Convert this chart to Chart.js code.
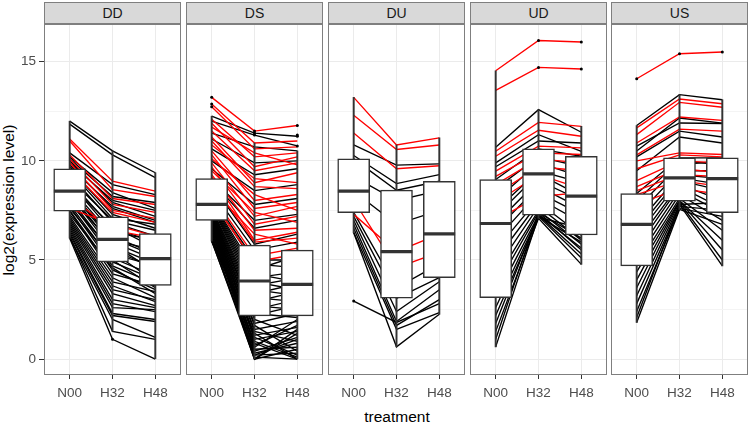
<!DOCTYPE html>
<html>
<head>
<meta charset="utf-8">
<script src="https://cdn.jsdelivr.net/npm/chart.js@4.4.1/dist/chart.umd.min.js"></script>
<style>
  body { margin:0; background:#fff; }
  #wrap { position:relative; width:751px; height:427px; overflow:hidden; font-family:"Liberation Sans", Arial, sans-serif; }
  canvas { position:absolute; top:24px; }
  .strip { position:absolute; top:2px; height:20px; width:135px; background:#d9d9d9; border:1px solid #7f7f7f;
           color:#1a1a1a; font-size:14px; line-height:20px; text-align:center; }
  .title { position:absolute; color:#000; font-size:15.5px; white-space:nowrap; }
</style>
</head>
<body>
<div id="wrap">
  <div class="title" style="left:0;top:417px;width:751px;text-align:center;line-height:0;padding-left:43px;box-sizing:border-box">treatment</div>
  <div class="title" style="left:9px;top:200px;transform:translate(-50%,-50%) rotate(-90deg)">log2(expression level)</div>
</div>
<script>
const treatments = ["N00", "H32", "H48"];
const facets = ["DD", "DS", "DU", "UD", "US"];

// each line: [N00, H32, H48]
const ddBlack = [
  [12.0,10.5,9.4],[11.85,10.3,9.15],[10.4,8.8,8.3],[10.2,8.4,7.6],[10.1,8.2,7.9],[10.0,7.9,7.2],
  [9.9,8.0,7.5],[9.8,7.6,6.9],[9.7,7.7,7.0],[9.6,7.3,6.6],[9.5,7.1,6.8],[9.3,6.9,6.2],[9.1,7.0,6.5],
  [9.0,6.6,5.9],[8.9,6.4,6.0],[8.8,6.7,5.6],[8.7,6.2,5.3],[8.6,6.0,5.5],[8.5,5.9,5.0],[8.45,6.1,5.2],
  [8.4,5.7,4.8],[8.3,5.5,4.6],[8.2,5.8,4.4],[8.1,5.3,4.7],[8.0,5.1,4.2],[7.9,5.4,3.9],[7.8,4.9,4.0],
  [7.7,4.7,3.8],[7.6,5.0,3.6],[7.5,4.5,3.5],[7.45,4.3,3.7],[7.3,4.6,3.3],[7.2,4.1,3.1],[7.1,3.9,3.4],
  [7.0,3.7,2.9],[6.9,3.5,3.0],[6.8,3.3,2.7],[6.7,3.0,2.6],[6.6,2.8,2.4],[6.5,2.6,2.5],[6.4,2.3,2.0],
  [6.3,2.2,1.9],[6.2,1.4,1.0],[6.1,1.0,0.0],[6.15,2.0,1.1]
];
const ddRed = [
  [11.1,8.97,8.47],[11.0,8.55,8.2],[10.3,8.1,7.8],[10.1,7.8,7.4],[9.9,7.5,7.1],[9.6,7.4,6.9],
  [8.2,6.5,6.1],[7.6,6.8,6.2]
];
const dsBlack = [
  [12.25,11.4,11.24],[12.0,11.3,10.75],[11.4,10.7,10.5],[11.1,9.9,10.0],[10.6,9.3,9.6],[10.0,8.5,8.8],
  [9.6,7.8,8.1],[9.1,7.0,7.3],[9.0,6.6,7.0],[8.8,5.8,6.3],[8.5,5.5,5.9],[8.2,5.0,5.0],
  [8.1,4.8,4.6],[8.0,4.5,5.2],[7.95,4.3,3.9],[7.9,4.1,4.4],[7.85,3.9,3.5],[7.8,3.7,4.1],[7.75,3.5,3.2],
  [7.7,3.3,3.8],[7.6,3.1,2.9],[7.55,2.9,3.4],[7.5,2.7,2.5],[7.45,2.5,3.0],[7.4,2.3,2.1],[7.35,2.2,2.7],
  [7.3,2.0,1.2],[7.25,1.8,2.3],[7.2,1.7,0.4],[7.15,1.5,1.9],[7.1,1.4,0.9],[7.05,1.2,1.6],[7.0,1.1,0.2],
  [6.95,1.0,1.4],[6.9,0.8,0.0],[6.85,0.7,1.7],[6.8,0.5,0.6],[6.75,0.4,1.1],[6.7,0.2,0.3],[6.6,0.0,1.3],
  [6.5,0.1,0.0],[6.4,0.6,2.0],[6.3,0.3,0.8],[6.2,0.0,1.5],[6.1,0.9,0.1],[6.0,0.0,0.5],[5.95,1.3,0.0],
  [5.95,0.2,1.0]
];
const dsRed = [
  [13.2,11.5,11.78],[12.87,10.9,11.0],[12.73,10.6,10.7],[12.1,10.2,10.4],[11.9,9.7,10.2],[11.7,10.4,9.8],
  [11.5,9.5,9.9],[11.2,8.9,9.4],[11.0,8.7,8.6],[10.8,9.1,8.9],[10.5,8.0,8.3],[10.3,7.6,7.9],
  [10.1,8.3,7.5],[9.9,7.2,7.7],[9.7,6.8,7.2],[9.5,7.4,6.9],[9.3,6.5,6.6],[9.2,6.0,6.4],[8.9,5.9,6.1],
  [8.6,6.3,5.8],[8.3,5.2,5.6],[8.0,4.9,5.3]
];
const duBlack = [
  [10.8,9.78,9.85],[10.27,8.85,9.3],[10.1,8.52,8.97],[9.2,8.0,8.5],[8.47,6.8,7.5],[7.4,3.6,4.8],
  [7.2,3.07,4.11],[7.0,2.4,3.9],[6.8,1.9,3.5],[6.6,1.7,3.0],[6.4,1.5,2.35],[6.37,0.62,2.26],[2.93,1.85,2.8]
];
const duRed = [
  [13.2,10.8,11.16],[12.3,10.57,10.8],[11.4,9.6,9.75],[7.3,5.42,6.3],[8.0,4.6,5.4]
];
const udBlack = [
  [10.69,12.58,11.44],[9.9,11.32,10.48],[9.7,11.0,10.9],[9.06,10.6,10.23],[8.6,10.2,9.7],[8.0,9.9,9.2],
  [7.5,9.5,8.9],[7.2,9.34,8.22],[6.84,9.0,8.0],[6.5,8.7,7.6],[6.0,8.4,7.3],[5.5,8.1,6.9],[5.0,7.9,6.26],
  [4.5,7.7,6.0],[4.0,7.5,5.8],[3.6,7.4,5.5],[3.1,7.26,5.3],[2.6,7.2,5.1],[2.2,7.15,6.6],[1.8,7.3,5.6],
  [1.4,7.1,4.78],[1.0,7.4,6.1],[0.62,7.2,5.9]
];
const udRed = [
  [14.54,16.07,15.99],[13.55,14.71,14.63],[10.48,11.94,11.74],[10.23,11.54,11.24],[9.48,10.74,10.65],
  [9.22,10.4,10.32],[8.8,10.1,9.9],[8.3,9.7,9.5],[7.9,9.3,8.6],[7.0,8.2,8.4]
];
const usBlack = [
  [11.78,13.34,13.08],[10.74,11.91,11.88],[10.5,12.16,11.9],[10.2,11.5,11.2],[9.5,11.2,10.9],
  [8.35,10.15,10.15],[8.0,10.0,9.8],[7.6,9.8,10.0],[7.2,9.5,9.5],[6.79,9.3,9.1],[6.5,9.14,8.8],
  [6.2,9.0,8.5],[5.9,8.8,8.0],[5.6,8.7,7.6],[5.3,8.5,7.38],[5.0,8.3,7.0],[4.7,8.1,6.5],[4.4,8.0,6.0],
  [4.0,7.97,5.5],[3.6,7.9,5.0],[3.2,7.8,4.7],[2.8,7.7,7.5],[2.4,7.6,7.2],[1.85,7.55,6.8],[2.1,7.8,7.9]
];
const usRed = [
  [14.14,15.4,15.49],[11.66,13.12,12.88],[11.32,12.95,12.7],[10.9,12.21,12.04],[10.3,11.6,11.5],
  [10.0,10.4,10.32],[9.6,10.3,10.2],[9.0,10.0,9.9],[8.7,9.6,9.4],[8.5,9.3,9.2],[8.3,9.0,8.7],[7.8,8.6,8.3]
];
const blackLines = [ddBlack, dsBlack, duBlack, udBlack, usBlack];
const redLines = [ddRed, dsRed, duRed, udRed, usRed];

// boxplot stats per facet, per treatment
const boxQ1  = [[7.46,4.9,3.72],[7.0,2.18,2.18],[7.38,3.07,4.11],[3.1,7.26,6.26],[4.7,7.97,7.38]];
const boxMed = [[8.47,6.04,5.07],[7.8,3.94,3.77],[8.47,5.42,6.32],[6.84,9.34,8.22],[6.79,9.14,9.1]];
const boxQ3  = [[9.6,7.18,6.33],[9.1,5.75,5.5],[10.1,8.52,8.97],[9.06,10.6,10.23],[8.35,10.15,10.15]];
const whiskLo = [[6.1,1.4,0.0],[5.95,0.0,0.0],[6.37,0.62,2.26],[0.62,7.1,4.78],[1.85,7.55,4.7]];
const whiskHi = [[12.0,10.5,9.4],[12.25,10.9,10.5],[13.2,10.8,11.16],[14.54,12.58,11.74],[11.78,13.34,13.08]];
// outliers: [treatment index, value]
const outliers = [
  [[2,1.0]],
  [[1,13.2],[1,12.87],[1,12.73],[2,11.5],[2,11.4],[2,11.3],[3,11.78],[3,11.3],[3,11.24],[3,10.75]],
  [[1,2.93]],
  [[2,14.71],[2,16.07],[3,14.63],[3,15.99]],
  [[1,14.14],[2,15.4],[3,15.49]]
];

const panelLeft = [44, 186, 328, 470, 611];
const panelWidth = 137;
const axisWidth = 44;

const panelBorder = {
  id: "panelBorder",
  afterDatasetsDraw(chart) {
    const a = chart.chartArea, c = chart.ctx;
    c.save();
    c.strokeStyle = "#7f7f7f";
    c.lineWidth = 1;
    c.strokeRect(a.left + 0.5, a.top + 0.5, a.width - 1, a.height - 1);
    c.restore();
  }
};

function lineSet(vals, color, order) {
  return {
    type: "line",
    data: vals.map((v, i) => ({ x: i + 1, y: v })),
    borderColor: color, borderWidth: 1.35,
    pointRadius: 0, pointHoverRadius: 0, tension: 0, order: order
  };
}

function makePanel(p) {
  const first = p === 0;
  const wrap = document.getElementById("wrap");
  const strip = document.createElement("div");
  strip.className = "strip";
  strip.style.left = panelLeft[p] + "px";
  strip.textContent = facets[p];
  wrap.appendChild(strip);

  const cv = document.createElement("canvas");
  const w = panelWidth + (first ? axisWidth : 0);
  cv.width = w; cv.height = 403;
  cv.style.left = (panelLeft[p] - (first ? axisWidth : 0)) + "px";
  wrap.appendChild(cv);

  const datasets = [];
  blackLines[p].forEach(l => datasets.push(lineSet(l, "#000000", 6)));
  redLines[p].forEach(l => datasets.push(lineSet(l, "#ff0000", 5)));
  const xs = [1, 2, 3];
  datasets.push({
    type: "bar", grouped: false, order: 3, barThickness: 1.3,
    data: xs.map((x, i) => ({ x: x, y: [whiskLo[p][i], whiskHi[p][i]] })),
    backgroundColor: "#333333"
  });
  datasets.push({
    type: "bar", grouped: false, order: 2, barThickness: 32,
    data: xs.map((x, i) => ({ x: x, y: [boxQ1[p][i], boxQ3[p][i]] })),
    backgroundColor: "#ffffff", borderColor: "#333333", borderWidth: 1.5, borderSkipped: false
  });
  datasets.push({
    type: "bar", grouped: false, order: 1, barThickness: 31,
    data: xs.map((x, i) => ({ x: x, y: [boxMed[p][i] - 0.065, boxMed[p][i] + 0.065] })),
    backgroundColor: "#333333"
  });
  datasets.push({
    type: "scatter", order: 0, showLine: false,
    data: outliers[p].map(o => ({ x: o[0], y: o[1] })),
    pointRadius: 1.5, pointHoverRadius: 0, pointBorderWidth: 0, backgroundColor: "#000000"
  });

  new Chart(cv, {
    type: "line",
    data: { datasets: datasets },
    options: {
      responsive: false, animation: false, devicePixelRatio: 1, events: [],
      layout: { padding: 0, autoPadding: false },
      plugins: { legend: { display: false }, tooltip: { enabled: false } },
      scales: {
        x: {
          type: "linear", min: 0.4, max: 3.6, offset: false,
          afterBuildTicks: s => { s.ticks = xs.map(v => ({ value: v })); },
          afterFit: s => { s.height = 52; s.paddingLeft = 0; s.paddingRight = 0; },
          ticks: {
            callback: v => treatments[v - 1], color: "#4d4d4d", padding: 6,
            maxRotation: 0, autoSkip: false,
            font: { family: "Liberation Sans", size: 13.5 }
          },
          grid: { color: "#ebebeb", tickColor: "#333333", tickLength: 4, lineWidth: 1, offset: false },
          border: { display: false }
        },
        y: {
          type: "linear", min: -0.8, max: 16.9,
          afterBuildTicks: s => { s.ticks = [0, 2.5, 5, 7.5, 10, 12.5, 15].map(v => ({ value: v })); },
          afterFit: s => { s.width = first ? axisWidth : 0; s.paddingTop = 0; s.paddingBottom = 0; },
          ticks: {
            display: first, color: "#4d4d4d", padding: 3,
            callback: v => (v % 5 === 0 ? String(v) : ""),
            font: { family: "Liberation Sans", size: 13.5 }
          },
          grid: {
            color: c => (c.tick && c.tick.value % 5 === 0 ? "#ebebeb" : "#f4f4f4"),
            tickColor: c => (c.tick && c.tick.value % 5 === 0 ? "#333333" : "rgba(0,0,0,0)"),
            drawTicks: first, tickLength: 5
          },
          border: { display: false }
        }
      }
    },
    plugins: [panelBorder]
  });
}

facets.forEach((f, i) => makePanel(i));
</script>
</body>
</html>
